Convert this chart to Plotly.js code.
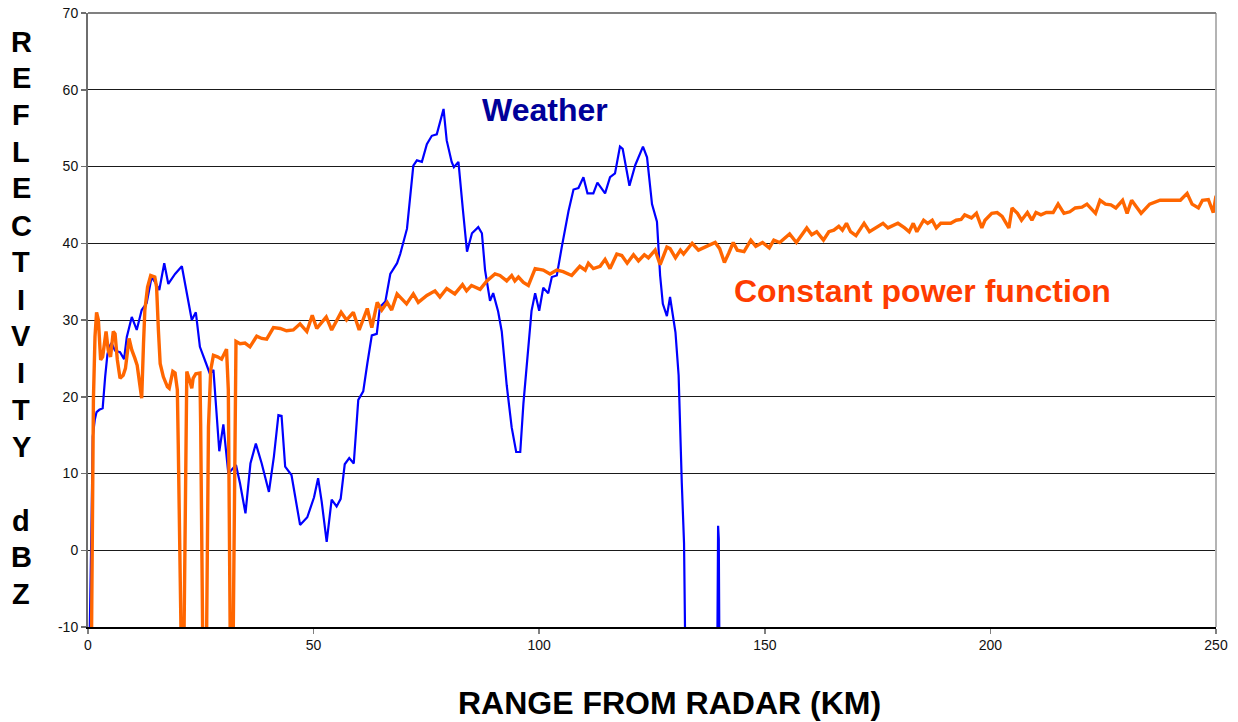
<!DOCTYPE html>
<html>
<head>
<meta charset="utf-8">
<script src="https://cdn.plot.ly/plotly-3.0.1.min.js"></script>
<style>
  html, body { margin: 0; padding: 0; background: #ffffff; }
  #chart { width: 1238px; height: 722px; }
</style>
</head>
<body>
<div id="chart"></div>
<script>
// ---- Weather echo (blue) ----
const rangeWeather = [
  0.2, 0.4, 0.8, 1.05, 1.5, 1.9, 2.5, 3.25, 3.8, 4.3, 4.7, 5.2, 6.0, 7.1, 8.0, 8.6, 9.7, 10.8, 11.9, 13.0,
  14.1, 15.0, 15.8, 16.9, 17.8, 19.3, 20.8, 21.9, 23.0, 23.9, 24.8, 26.2, 27.0, 27.8, 28.4, 29.1, 30.0, 31.1,
  32.8, 33.7, 34.9, 36.0, 37.2, 38.5, 40.1, 41.2, 42.2, 42.9, 43.7, 45.1, 47.0, 48.6, 50.1, 51.0, 51.8, 52.9,
  54.0, 55.1, 56.0, 56.9, 57.9, 58.9, 59.9, 61.0, 61.9, 62.9, 64.0, 64.7, 65.9, 67.0, 68.5, 69.2, 70.7, 71.4,
  72.1, 72.9, 74.0, 75.1, 76.2, 77.3, 78.8, 79.5, 80.6, 81.1, 82.1, 83.1, 84.0, 85.1, 86.5, 87.3, 88.0, 89.1,
  89.8, 90.9, 91.7, 92.8, 93.9, 94.9, 95.8, 96.5, 97.3, 98.3, 99.1, 100.0, 100.9, 102.0, 102.8, 103.9, 105.0,
  106.5, 107.6, 108.7, 109.8, 110.7, 112.0, 112.9, 114.6, 115.7, 116.8, 117.9, 118.5, 120.0, 121.3, 123.0,
  123.9, 125.0, 126.1, 126.8, 127.4, 128.3, 129.0, 130.2, 130.9, 131.3, 131.6, 132.1, 132.5, 132.7, 139.3,
  139.45, 139.65, 139.8, 139.95, 140.1
];
const weatherDbz = [
  -12, -10, 4.4, 14.8, 17, 18, 18.3, 18.5, 22.6, 25.5, 26.5, 27, 26, 25.8, 24.9, 27.8, 30.4, 28.7, 31.3, 32.2,
  35.6, 34.8, 33.9, 37.4, 34.7, 36, 37, 33.4, 30, 31, 26.5, 24.3, 23, 23.5, 18.3, 12.9, 16.4, 10,
  11.1, 8.7, 4.8, 11.3, 13.9, 11.3, 7.6, 12.2, 17.6, 17.5, 10.9, 9.8, 3.3, 4.3, 6.9, 9.4, 6.3, 1.1,
  6.6, 5.7, 6.7, 11.2, 12, 11.3, 19.6, 20.7, 24.3, 28, 28.2, 31.7, 32.4, 36, 37.4, 38.6, 41.9, 46,
  50.1, 50.8, 50.6, 52.9, 54, 54.2, 57.5, 53.4, 50.6, 49.9, 50.6, 44.3, 38.9, 41.3, 42.1, 41.3, 36.5, 32.5,
  33.5, 31.1, 28.5, 21.5, 16, 12.8, 12.8, 19.1, 24.7, 31.2, 33.5, 31.2, 34.2, 33.5, 35.6, 35.8, 39.5,
  44.2, 47, 47.2, 48.6, 46.5, 46.5, 47.9, 46.5, 48.6, 49.1, 52.6, 52.3, 47.5, 50.2, 52.6,
  51.2, 45.1, 42.8, 35.8, 32.1, 30.5, 33, 28.4, 22.8, 13.5, 8.8, 0.9, -10, -30, -30,
  -10, 3.2, 1.5, -10, -30
];

// ---- Constant power function (orange) ----
const rangePower = [
  0.8, 1.2, 1.55, 1.9, 2.3, 2.8, 3.25, 4.0, 4.5, 5.0, 5.6, 6.0, 6.5, 7.1, 7.8, 8.3, 9.1, 9.7, 10.4, 10.9,
  11.5, 11.9, 12.3, 12.6, 13.2, 13.9, 14.8, 15.2, 15.6, 16.0, 16.7, 17.6, 18.0, 18.8, 19.3, 19.8, 20.0, 20.2,
  20.4, 20.6, 21.1, 21.3, 21.7, 21.9, 22.5, 23.0, 23.3, 23.9, 24.8, 24.97, 25.4, 25.6, 26.1, 26.3, 26.7, 27.2,
  27.8, 28.7, 29.6, 30.7, 31.1, 31.5, 31.7, 32.0, 32.2, 32.6, 32.8, 33.7, 34.8, 35.9, 37.4, 38.5, 39.6, 41.1,
  42.6, 44.0, 45.5, 47.0, 48.5, 49.7, 50.7, 52.8, 54.0, 56.1, 57.3, 58.8, 60.1, 61.9, 62.9, 64.1, 65.1, 66.3,
  67.3, 68.5, 70.6, 72.1, 73.2, 75.1, 76.9, 78.0, 79.5, 81.3, 83.0, 83.9, 85.0, 86.9, 88.4, 90.2, 91.3, 92.8,
  93.9, 94.6, 95.4, 96.5, 97.6, 99.1, 100.9, 102.4, 103.9, 105.3, 107.2, 109.0, 110.2, 110.9, 112.0, 113.5,
  114.6, 115.7, 117.2, 118.3, 119.5, 120.9, 122.0, 123.3, 124.2, 125.7, 126.8, 128.3, 129.0, 130.2, 131.3,
  132.0, 133.9, 135.3, 137.1, 139.0, 140.0, 141.05, 142.0, 143.0, 143.9, 145.4, 146.9, 148.0, 149.5, 151.0,
  152.0, 153.3, 155.5, 157.0, 159.3, 160.4, 161.5, 163.0, 164.2, 165.3, 166.4, 167.2, 168.1, 169.0, 170.2,
  172.0, 173.2, 174.7, 176.2, 177.3, 179.5, 181.0, 182.0, 182.9, 183.7, 185.2, 186.1, 187.1, 188.0, 189.0,
  191.2, 192.4, 193.5, 194.3, 195.8, 196.9, 198.1, 198.8, 200.3, 201.5, 202.6, 204.1, 204.8, 206.0, 206.9,
  208.2, 209.2, 210.1, 211.2, 212.4, 213.9, 215.0, 216.3, 217.6, 218.8, 220.3, 221.4, 223.3, 224.3, 225.5,
  226.7, 227.8, 229.3, 230.3, 231.3, 232.3, 233.4, 235.3, 237.6, 242.1, 243.6, 244.7, 246.1, 247.0, 248.3,
  249.4, 250.0
];
const powerDbz = [
  -10, 19.6, 27.8, 31, 30, 24.8, 25.2, 28.5, 26, 25.2, 28.5, 28.2, 24.8, 22.4, 22.8, 23.7, 27.6, 26.1, 25, 24.1,
  21.5, 19.8, 26.9, 31.3, 34.3, 35.8, 35.6, 34.3, 28.7, 24.3, 22.6, 21.3, 21.1, 23.3, 23.1, 20.9, 13.9, 0,
  -10, -30, -30, -10, 18.7, 23.3, 22.2, 21.1, 22.4, 23, 23.1, 16.5, -10, -30, -30, -10, 16.1, 23.5,
  25.4, 25.2, 24.9, 26.2, 20.9, -10, -30, -30, -10, 21.7, 27.2, 26.9, 27, 26.5, 27.9, 27.6, 27.5, 29,
  28.9, 28.6, 28.7, 29.5, 28.5, 30.6, 28.9, 30.4, 28.7, 31, 30, 31, 28.7, 31.5, 29, 32.3, 31.3, 32.3,
  31.3, 33.4, 32.1, 33.4, 32.3, 33.2, 33.8, 33, 34.1, 33.4, 34.6, 33.8, 34.5, 34, 35.1, 36, 35.8, 35.1,
  35.8, 35.1, 35.6, 34.9, 34.5, 36.7, 36.5, 36, 36.5, 36.3, 35.8, 37, 36.5, 37.4, 36.7, 37,
  37.9, 36.7, 38.6, 38.4, 37.4, 38.5, 37.7, 38.5, 38.1, 39.1, 37.2, 39.5, 39.3, 38.1, 39.1,
  38.6, 40, 39.1, 39.6, 40.1, 39.3, 37.5, 38.7, 40.1, 39.1, 38.9, 40.4, 39.6, 40.1, 39.4,
  40.4, 40.1, 41.2, 40.1, 42, 41.1, 41.5, 40.4, 41.5, 41.7, 42.2, 41.7, 42.6, 41.5, 41,
  42.6, 41.5, 42, 42.6, 42, 42.6, 42, 41.5, 42.6, 41.5, 43, 42.6, 43, 42, 42.6,
  42.6, 43, 43.1, 43.7, 43.3, 43.9, 42, 43, 43.9, 44, 43.5, 42, 44.6, 43.9, 43,
  44, 43, 44, 43.7, 44, 44, 45.1, 43.9, 44.1, 44.6, 44.7, 45.1, 43.9, 45.6, 45.1,
  45, 44.6, 45.6, 43.9, 45.6, 44.8, 43.9, 45.1, 45.6, 45.6, 46.5, 45.1, 44.6, 45.6, 45.7,
  44, 46.2
];

// ---- Text ----
const xTickVals = [0, 50, 100, 150, 200, 250];
const yTickVals = [-10, 0, 10, 20, 30, 40, 50, 60, 70];
const xTitleText = "RANGE FROM RADAR (KM)";
const yTitleLetters = ["R","E","F","L","E","C","T","I","V","I","T","Y","d","B","Z"];
const yTitleLetterPx = [42, 78, 115, 152, 188, 226, 262, 300, 336, 373, 410, 447, 521, 557, 594];
const weatherLabel = "Weather";
const powerLabel = "Constant power function";

const FONT = "'Liberation Sans', Arial, Helvetica, sans-serif";
const plotTop = 13, plotBottom = 627;

const traces = [
  {
    x: rangeWeather, y: weatherDbz, type: "scatter", mode: "lines", name: weatherLabel,
    line: { color: "#0000FF", width: 2.2 }, hoverinfo: "x+y"
  },
  {
    x: rangePower, y: powerDbz, type: "scatter", mode: "lines", name: powerLabel,
    line: { color: "#FF6600", width: 3.4 }, hoverinfo: "x+y"
  }
];

const annotations = [
  { x: 101.2, y: 57.3, xref: "x", yref: "y", text: "<b>" + weatherLabel + "</b>", showarrow: false,
    font: { family: FONT, size: 32, color: "#000099" }, xanchor: "center", yanchor: "middle" },
  { x: 185.0, y: 33.8, xref: "x", yref: "y", text: "<b>" + powerLabel + "</b>", showarrow: false,
    font: { family: FONT, size: 32, color: "#FF3C00" }, xanchor: "center", yanchor: "middle" },
  { x: (669.5 - 88) / (1216 - 88), y: (plotBottom - 703) / (plotBottom - plotTop), xref: "paper", yref: "paper",
    text: "<b>" + xTitleText + "</b>", showarrow: false,
    font: { family: FONT, size: 32, color: "#000000" }, xanchor: "center", yanchor: "middle" }
];
yTitleLetters.forEach((ch, i) => {
  annotations.push({
    x: (21 - 88) / (1216 - 88), y: (plotBottom - yTitleLetterPx[i]) / (plotBottom - plotTop),
    xref: "paper", yref: "paper", text: "<b>" + ch + "</b>", showarrow: false,
    font: { family: FONT, size: 29, color: "#000000" }, xanchor: "center", yanchor: "middle"
  });
});

const layout = {
  width: 1238, height: 722,
  margin: { l: 88, r: 22, t: plotTop, b: 722 - plotBottom, pad: 0 },
  paper_bgcolor: "#ffffff", plot_bgcolor: "#ffffff",
  showlegend: false,
  font: { family: FONT, size: 14, color: "#000000" },
  xaxis: {
    range: [0, 250], tickmode: "array", tickvals: xTickVals, ticktext: xTickVals.map(String),
    showgrid: false, zeroline: false, showline: true, linecolor: "#000000", linewidth: 1.5,
    ticks: "outside", ticklen: 5, tickcolor: "#808080", tickwidth: 1.5,
    tickfont: { family: FONT, size: 14, color: "#111111" }
  },
  yaxis: {
    range: [-10, 70], tickmode: "array", tickvals: yTickVals, ticktext: yTickVals.map(String),
    showgrid: true, gridcolor: "#1a1a1a", gridwidth: 1, zeroline: false,
    showline: true, linecolor: "#6e6e6e", linewidth: 2,
    ticks: "outside", ticklen: 5, tickcolor: "#6e6e6e", tickwidth: 1.5,
    tickfont: { family: FONT, size: 14, color: "#111111" }
  },
  shapes: [
    { type: "line", xref: "paper", yref: "paper", x0: 1, x1: 1, y0: 0, y1: 1,
      line: { color: "#b4b4b4", width: 2 } },
    { type: "line", xref: "paper", yref: "paper", x0: 0, x1: 1, y0: 1, y1: 1,
      line: { color: "#808080", width: 2 } }
  ],
  annotations: annotations
};

Plotly.newPlot("chart", traces, layout, { displayModeBar: false, staticPlot: true });
</script>
</body>
</html>
